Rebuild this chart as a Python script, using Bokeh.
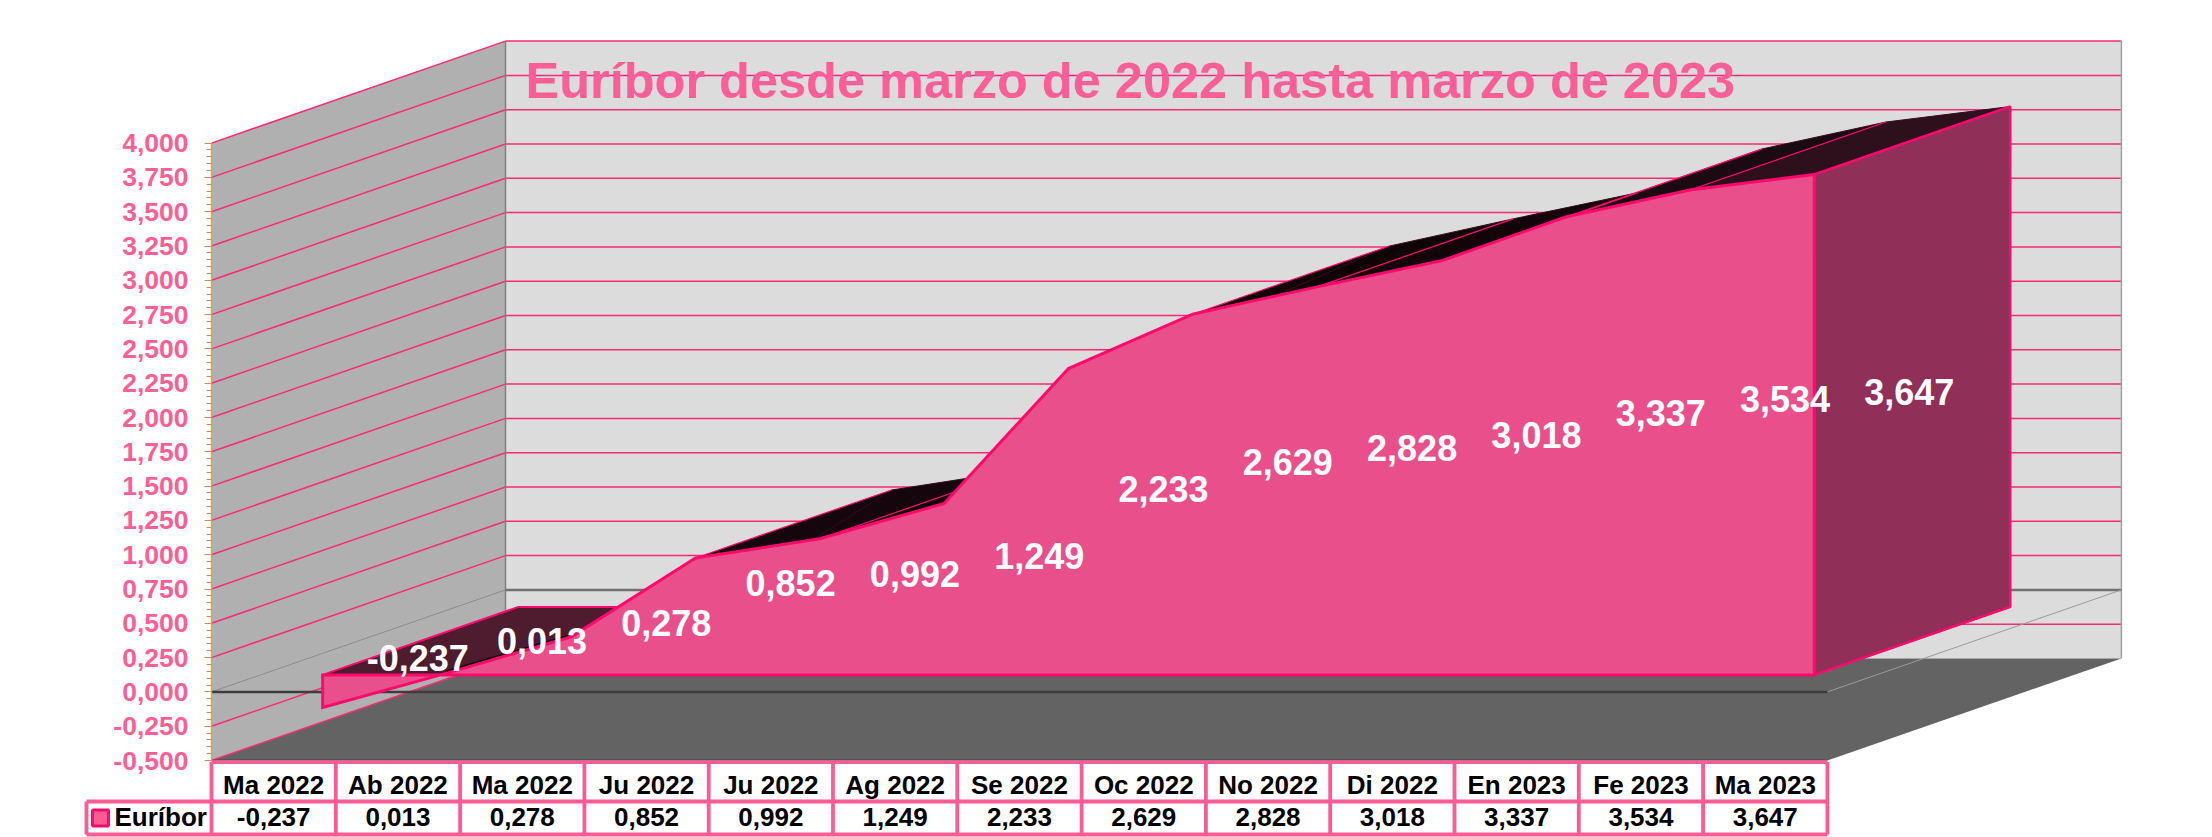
from bokeh.plotting import figure
from bokeh.layouts import column
from bokeh.models import Range1d, FixedTicker, LinearAxis
from bokeh.core.properties import value
from bokeh.embed import file_html
from bokeh.resources import INLINE

categories = ["Ma 2022", "Ab 2022", "Ma 2022", "Ju 2022", "Ju 2022", "Ag 2022", "Se 2022",
              "Oc 2022", "No 2022", "Di 2022", "En 2023", "Fe 2023", "Ma 2023"]
euribor = [-0.237, 0.013, 0.278, 0.852, 0.992, 1.249, 2.233, 2.629, 2.828, 3.018, 3.337, 3.534, 3.647]
series_name = "Euríbor"
title_text = "Euríbor desde marzo de 2022 hasta marzo de 2023"
ticks = [-0.5, -0.25, 0, 0.25, 0.5, 0.75, 1, 1.25, 1.5, 1.75, 2, 2.25, 2.5, 2.75, 3, 3.25, 3.5, 3.75, 4]
top_face_colors = ["#4e1c2e", "#3c1224", "#2a0a18", "#14060c", "#100408", "#100408", "#100408",
                   "#0e0408", "#120408", "#1a0810", "#1c0a12", "#2e101c"]


def comma(v):
    return f"{v:.3f}".replace(".", ",")


value_labels = [comma(v) for v in euribor]

FONT = value("Liberation Sans")
PINK_TEXT = "#fb5f95"
PINK_LINE = "#ff0a6c"
PINK_GRID = "#fa2a75"
TABLE_LINE = "#fb5c94"

# layout of the projection (page pixels)
PX_LEFT, PX_BOTTOM = 211.0, 760.0
CAT_W, UNIT_H = 124.3, 137.2
PAGE_W, TOP_H, TABLE_H = 2212, 760, 77
AXIS_ROOM = 25             # room under the frame for the lowest tick label
DEPTH_X = 294.0 / CAT_W    # category units per full depth
DEPTH_Y = 102.0 / UNIT_H   # value units per full depth
D_FRONT, D_BACK, D_MID = 1 / 6, 5 / 6, 0.49
N = len(categories)


def pr(cat, val, d=0.0):
    return cat + d * DEPTH_X, val + d * DEPTH_Y


def poly(points):
    xs, ys = zip(*[pr(*pt) for pt in points])
    return list(xs), list(ys)


def seg(a, b):
    return poly([a, b])


p = figure(width=PAGE_W, height=TOP_H + AXIS_ROOM, output_backend="svg", toolbar_location=None,
           min_border_left=int(PX_LEFT), min_border_right=0, min_border_top=0, min_border_bottom=AXIS_ROOM,
           x_range=Range1d(0, (PAGE_W - PX_LEFT) / CAT_W),
           y_range=Range1d(-0.5, -0.5 + TOP_H / UNIT_H),
           x_axis_location=None, y_axis_location=None, outline_line_color=None,
           background_fill_color="white", border_fill_color="white")
p.grid.visible = False
p.frame_align = False

vmin, vmax = ticks[0], ticks[-1]
# walls and floor
x, y = poly([(0, vmin, 0), (0, vmin, 1), (0, vmax, 1), (0, vmax, 0)])
p.patch(x, y, fill_color="#b0b0b0", line_color=None)
x, y = poly([(0, vmin, 1), (N, vmin, 1), (N, vmax, 1), (0, vmax, 1)])
p.patch(x, y, fill_color="#dcdcdc", line_color=None)
x, y = poly([(0, vmin, 0), (N, vmin, 0), (N, vmin, 1), (0, vmin, 1)])
p.patch(x, y, fill_color="#636363", line_color=None)

# grid lines
grid_x, grid_y = [], []
for t in ticks:
    if t == 0:
        continue
    a, b = seg((0, t, 0), (0, t, 1))
    grid_x.append(a); grid_y.append(b)
    if t != vmin:
        a, b = seg((0, t, 1), (N, t, 1))
        grid_x.append(a); grid_y.append(b)
p.multi_line(grid_x, grid_y, line_color=PINK_GRID, line_width=1.5)

# wall edges and zero plane
for a, b, c, w in [((0, vmin, 1), (0, vmax, 1), "#808080", 1.5),
                   ((N, vmin, 1), (N, vmax, 1), "#a0a0a0", 1.5),
                   ((0, 0, 1), (N, 0, 1), "#707070", 2.5),
                   ((0, 0, 0), (0, 0, 1), "#8c8c8c", 1),
                   ((N, 0, 0), (N, 0, 1), "#9a9a9a", 1),
                   ((0, vmin, 0), (N, vmin, 0), "#303030", 1.5),
                   ((0, 0, 0), (N, 0, 0), "#3c3c3c", 2.5)]:
    sx, sy = seg(a, b)
    p.line(sx, sy, line_color=c, line_width=w)

# area: top faces
cats = [i + 0.5 for i in range(N)]
top_x, top_y = [], []
for i in range(N - 1):
    a, b = poly([(cats[i], euribor[i], D_FRONT), (cats[i + 1], euribor[i + 1], D_FRONT),
                 (cats[i + 1], euribor[i + 1], D_BACK), (cats[i], euribor[i], D_BACK)])
    top_x.append(a); top_y.append(b)
p.patches(top_x, top_y, fill_color=top_face_colors, line_color=None)

# back edge of the top faces
bx, by = poly([(c, v, D_BACK) for c, v in zip(cats, euribor)])
p.line(bx, by, line_color="#3a0a1e", line_width=1)

# depth edges across the top faces
depth_x, depth_y = [], []
for i in range(N):
    a, b = seg((cats[i], euribor[i], D_FRONT), (cats[i], euribor[i], D_BACK))
    depth_x.append(a); depth_y.append(b)
p.multi_line(depth_x, depth_y, line_color=PINK_LINE, line_width=1.2)

# base of the area
x, y = poly([(cats[0], 0, D_FRONT), (cats[-1], 0, D_FRONT), (cats[-1], 0, D_BACK), (cats[0], 0, D_BACK)])
p.patch(x, y, fill_color=top_face_colors[0], line_color=PINK_LINE, line_width=2)

# dark sliver just above the rising front edge
sx, sy = poly([(cats[i], euribor[i], D_FRONT) for i in (1, 2)])
p.line(sx, sy, line_color="#0c0206", line_width=6)

# right end
x, y = poly([(cats[-1], 0, D_FRONT), (cats[-1], euribor[-1], D_FRONT),
             (cats[-1], euribor[-1], D_BACK), (cats[-1], 0, D_BACK)])
p.patch(x, y, fill_color="#903058", line_color=PINK_LINE, line_width=2.5)

# front face
front = [(cats[0], 0, D_FRONT)] + [(c, v, D_FRONT) for c, v in zip(cats, euribor)] + [(cats[-1], 0, D_FRONT)]
x, y = poly(front)
p.patch(x, y, fill_color="#e94f8a", line_color=PINK_LINE, line_width=3, line_join="miter")

# data labels
lx, ly = zip(*[pr(c, v / 2, D_MID) for c, v in zip(cats, euribor)])
p.text(list(lx), list(ly), text=value_labels, text_color="white", text_font=FONT, text_font_style="bold",
       text_font_size="36px", text_align="center", text_baseline="middle")

# title
p.text([(525 - PX_LEFT) / CAT_W], [(PX_BOTTOM - 80) / UNIT_H - 0.5], text=[title_text], text_color=PINK_TEXT,
       text_font=FONT, text_font_style="bold", text_font_size="50.5px", text_align="left",
       text_baseline="middle")

# value axis
axis = LinearAxis(ticker=FixedTicker(ticks=ticks, minor_ticks=[-0.5 + i * 0.05 for i in range(91)]),
                  bounds=(vmin, vmax))
axis.major_label_overrides = {float(t): comma(t) for t in ticks}
axis.major_label_text_font = "Liberation Sans"
axis.major_label_text_font_style = "bold"
axis.major_label_text_font_size = "26.5px"
axis.major_label_text_color = PINK_TEXT
axis.major_label_standoff = 16
axis.axis_line_color = "#e8a040"
axis.axis_line_width = 1.5
axis.major_tick_line_color = "#c89050"
axis.minor_tick_line_color = "#c89050"
axis.major_tick_in = 0
axis.minor_tick_in = 0
axis.major_tick_out = 7
axis.minor_tick_out = 5
p.add_layout(axis, "left")

# data table under the chart, laid over the room left under the frame
t = figure(width=PAGE_W, height=TABLE_H, output_backend="svg", toolbar_location=None,
           min_border_left=0, min_border_right=0, min_border_top=0, min_border_bottom=0,
           x_range=Range1d(-PX_LEFT / CAT_W, (PAGE_W - PX_LEFT) / CAT_W),
           y_range=Range1d(PX_BOTTOM + TABLE_H, PX_BOTTOM),
           x_axis_location=None, y_axis_location=None, outline_line_color=None,
           background_fill_color=None, border_fill_color=None, margin=(-AXIS_ROOM, 0, 0, 0))
t.grid.visible = False
t.frame_align = False

ROW0, ROW1, ROW2 = 761.5, 801.0, 834.0
LEFT = (86 - PX_LEFT) / CAT_W
lines_x = [[0, N], [LEFT, N], [LEFT, N], [LEFT, LEFT]] + [[k, k] for k in range(N + 1)]
lines_y = [[ROW0, ROW0], [ROW1, ROW1], [ROW2, ROW2], [ROW1, ROW2]] + [[ROW0, ROW2]] * (N + 1)
t.multi_line(lines_x, lines_y, line_color=TABLE_LINE, line_width=3.8)

t.text(cats, [784.5] * N, text=categories, text_color="black", text_font=FONT, text_font_style="bold",
       text_font_size="26px", text_align="center", text_baseline="middle")
t.text(cats, [816.5] * N, text=value_labels, text_color="black", text_font=FONT, text_font_style="bold",
       text_font_size="26px", text_align="center", text_baseline="middle")
t.quad(left=[(92 - PX_LEFT) / CAT_W], right=[(108 - PX_LEFT) / CAT_W], top=[809.5], bottom=[825.5],
       fill_color="#fb5c94", line_color="#ff0a6c", line_width=3)
t.text([(114 - PX_LEFT) / CAT_W], [816.5], text=[series_name], text_color="black", text_font=FONT,
       text_font_style="bold", text_font_size="26px", text_align="left", text_baseline="middle")

layout = column(p, t, spacing=0)
open("out.html", "w").write(file_html(layout, INLINE))
